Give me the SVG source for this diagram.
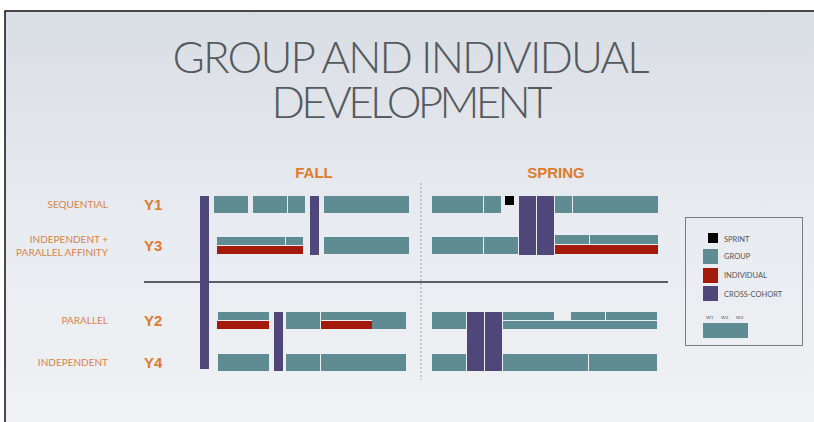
<svg xmlns="http://www.w3.org/2000/svg" width="814" height="422" viewBox="0 0 814 422">
<defs>
<linearGradient id="bg" x1="0" y1="0" x2="0" y2="1">
<stop offset="0" stop-color="#d9dee4"/>
<stop offset="0.5" stop-color="#e8ebf0"/>
<stop offset="1" stop-color="#eff1f4"/>
</linearGradient>
<style>
.g{fill:#5f8b93}
.p{fill:#4f477a}
.r{fill:#a3190b}
.k{fill:#000}
.lab{font-family:"Lato","Liberation Sans",sans-serif;font-size:10px;fill:#d8834a;text-anchor:end}
.yr{font-family:"Liberation Sans",Arial,sans-serif;font-size:15px;font-weight:bold;fill:#e07a2c}
.hd{font-family:"Liberation Sans",Arial,sans-serif;font-size:15px;font-weight:bold;fill:#e07a2c;text-anchor:middle}
.ttl{font-family:"Lato","Open Sans",sans-serif;font-weight:300;font-size:44px;fill:#555a5e;text-anchor:middle}
.lg{font-family:"Lato","Liberation Sans",sans-serif;font-size:7.5px;fill:#555}
.w{font-family:"Lato","Liberation Sans",sans-serif;font-size:4.5px;fill:#555}
</style>
</defs>
<rect x="0" y="0" width="814" height="422" fill="#fff"/>
<rect x="5" y="11" width="809" height="411" fill="url(#bg)"/>
<g id="frame" stroke="#111" stroke-width="1.5" fill="none">
<path d="M5 422 V11 H814"/>
</g>
<g id="title">
<text class="ttl" x="411" y="73" textLength="477" lengthAdjust="spacing">GROUP AND INDIVIDUAL</text>
<text class="ttl" x="412" y="118" textLength="281" lengthAdjust="spacing">DEVELOPMENT</text>
</g>
<g id="headers">
<text class="hd" x="314" y="178">FALL</text>
<text class="hd" x="556" y="178">SPRING</text>
</g>
<g id="row-labels">
<text class="lab" x="108" y="207.5">SEQUENTIAL</text>
<text class="lab" x="108" y="242.5">INDEPENDENT +</text>
<text class="lab" x="108" y="255.5">PARALLEL AFFINITY</text>
<text class="lab" x="108" y="323.5">PARALLEL</text>
<text class="lab" x="108" y="365.5">INDEPENDENT</text>
<text class="yr" x="144" y="209.5">Y1</text>
<text class="yr" x="144" y="250.5">Y3</text>
<text class="yr" x="144" y="325.5">Y2</text>
<text class="yr" x="144" y="367.5">Y4</text>
</g>
<g id="connectors">
<line x1="144" y1="282" x2="668" y2="282" stroke="#5a5f63" stroke-width="2"/>
<line x1="421" y1="183" x2="421" y2="380" stroke="#9a9ea3" stroke-width="1" stroke-dasharray="2,2"/>
</g>
<g id="fall">
<rect class="p" x="200" y="196" width="9" height="173"/>
<rect class="g" x="214" y="196" width="34" height="17"/>
<rect class="g" x="253" y="196" width="34" height="17"/>
<rect class="g" x="288" y="196" width="17" height="17"/>
<rect class="p" x="310" y="196" width="9" height="59"/>
<rect class="g" x="324" y="196" width="85" height="17"/>
<rect class="g" x="217" y="237" width="68" height="8"/>
<rect class="g" x="286" y="237" width="17" height="8"/>
<rect class="r" x="217" y="246" width="86" height="8"/>
<rect class="g" x="324" y="237" width="85" height="17"/>
<rect class="g" x="218" y="312" width="51" height="8"/>
<rect class="r" x="217" y="321" width="52" height="8"/>
<rect class="p" x="274" y="312" width="9" height="59"/>
<rect class="g" x="286" y="312" width="34" height="17"/>
<rect class="g" x="321" y="312" width="85" height="17"/>
<rect fill="#eef0f3" x="321" y="320" width="51" height="1"/>
<rect class="r" x="321" y="321" width="51" height="8"/>
<rect class="g" x="218" y="354" width="51" height="17"/>
<rect class="g" x="286" y="354" width="34" height="17"/>
<rect class="g" x="321" y="354" width="85" height="17"/>
</g>
<g id="spring">
<rect class="g" x="432" y="196" width="51" height="17"/>
<rect class="g" x="484" y="196" width="17" height="17"/>
<rect class="k" x="505" y="196" width="9" height="9"/>
<rect class="p" x="519" y="196" width="17" height="59"/>
<rect class="p" x="537" y="196" width="17" height="59"/>
<rect class="g" x="555" y="196" width="17" height="17"/>
<rect class="g" x="573" y="196" width="85" height="17"/>
<rect class="g" x="432" y="237" width="51" height="17"/>
<rect class="g" x="484" y="237" width="34" height="17"/>
<rect class="g" x="555" y="235" width="34" height="9"/>
<rect class="g" x="590" y="235" width="68" height="9"/>
<rect class="r" x="555" y="245" width="103" height="9"/>
<rect class="g" x="432" y="312" width="34" height="17"/>
<rect class="p" x="467" y="312" width="17" height="59"/>
<rect class="p" x="485" y="312" width="17" height="59"/>
<rect class="g" x="503" y="312" width="51" height="8"/>
<rect class="g" x="571" y="312" width="34" height="8"/>
<rect class="g" x="606" y="312" width="51" height="8"/>
<rect class="g" x="503" y="321" width="154" height="8"/>
<rect class="g" x="432" y="354" width="34" height="17"/>
<rect class="g" x="503" y="354" width="85" height="17"/>
<rect class="g" x="589" y="354" width="68" height="17"/>
</g>
<g id="legend">
<rect x="685.5" y="217.5" width="117" height="128" fill="none" stroke="#7a7d80" stroke-width="1"/>
<rect class="k" x="708" y="233" width="10" height="10"/>
<text class="lg" x="724" y="241.5">SPRINT</text>
<rect class="g" x="703" y="249" width="15" height="15"/>
<text class="lg" x="724" y="258.5">GROUP</text>
<rect class="r" x="703" y="268" width="15" height="15"/>
<text class="lg" x="724" y="277.5">INDIVIDUAL</text>
<rect class="p" x="703" y="286" width="15" height="15"/>
<text class="lg" x="724" y="296.5">CROSS-COHORT</text>
<text class="w" x="706" y="319">W1</text>
<text class="w" x="721" y="319">W2</text>
<text class="w" x="736" y="319">W3</text>
<rect class="g" x="703" y="323" width="45" height="15"/>
</g>
</svg>
